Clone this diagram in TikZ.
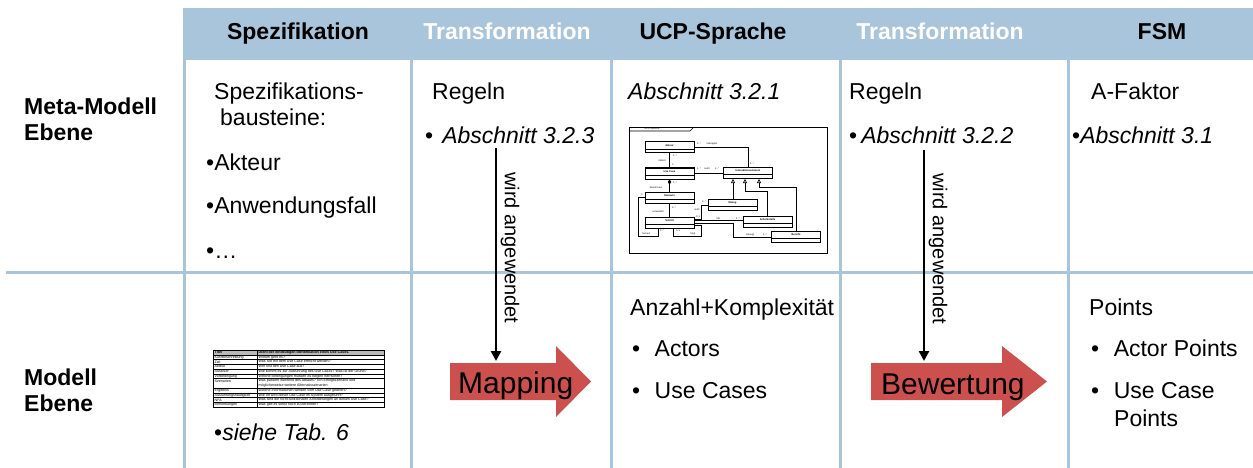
\documentclass[tikz,border=0pt]{standalone}
\usepackage{fontspec}
\setmainfont{Liberation Sans}
\usetikzlibrary{arrows.meta}
\definecolor{hdblue}{RGB}{168,197,219}
\definecolor{maprd}{RGB}{204,80,78}

\begin{document}
\begin{tikzpicture}[x=1pt,y=-1pt,
  hd/.style={font=\fontsize{23}{27}\selectfont\bfseries,anchor=base,inner sep=0pt},
  lbl/.style={font=\fontsize{23}{27}\selectfont\bfseries,anchor=base west,inner sep=0pt},
  txt/.style={font=\fontsize{23}{27}\selectfont,anchor=base west,inner sep=0pt},
  arrtxt/.style={font=\fontsize{30}{34}\selectfont,anchor=base west,inner sep=0pt},
  sidetxt/.style={font=\fontsize{20}{24}\selectfont,rotate=-90,inner sep=0pt},
  cellline/.style={hdblue,line width=3pt},
  warr/.style={line width=2.5pt,-{Triangle[length=10pt,width=10pt]}},
  umlcls/.style={draw,line width=1pt,minimum width=49pt,minimum height=11pt,inner sep=0pt},
  umltxt/.style={font=\fontsize{2.4}{2.7}\selectfont,inner sep=0.2pt},
  uml/.style={line width=0.6pt},
  tabtxt/.style={font=\fontsize{3.6}{4.3}\selectfont,anchor=west,align=left,inner sep=0pt}]
\useasboundingbox (0,0) rectangle (1253,468);
\fill[hdblue] (182.5,8.5) rectangle (1253,60);
\draw[cellline] (6,272) -- (1253,272);
\foreach \x in {184,411,611,840,1068} \draw[cellline] (\x,60) -- (\x,468);

\node[hd] (hspez) at (298,40) {Spezifikation};
\node[hd,white] (htra) at (507,40) {Transformation};
\node[hd] (hucp) at (713,40) {UCP-Sprache};
\node[hd,white] (htrb) at (940,40) {Transformation};
\node[hd] (hfsm) at (1162,40) {FSM};

\node[lbl] (meta1) at (24,115) {Meta-Modell};
\node[lbl] (meta2) at (24,141) {Ebene};
\node[lbl] (mod1) at (24,385) {Modell};
\node[lbl] (mod2) at (24,411) {Ebene};

\node[txt] (sp1) at (214,100) {Spezifikations-};
\node[txt] (sp2) at (220,126) {bausteine:};
\node[txt] (sp3) at (206,171) {•Akteur};
\node[txt] (sp4) at (206,213) {•Anwendungsfall};
\node[txt] (sp5) at (206,258) {•…};
\node[txt] (sp6) at (214,440) {•\textit{siehe Tab. 6}};

\node[txt] (tra1) at (432,100) {Regeln};
\node[txt] (tra2) at (425,143) {•\hspace{9pt}\textit{Abschnitt 3.2.3}};
\node[txt] (ucp1) at (628,100) {\textit{Abschnitt 3.2.1}};
\node[txt] (ucp2) at (630,315) {Anzahl+Komplexität};
\node[txt] (ucp3) at (632,356) {•\hspace{14.5pt}Actors};
\node[txt] (ucp4) at (632,398) {•\hspace{14.5pt}Use Cases};
\node[txt] (trb1) at (849,100) {Regeln};
\node[txt] (trb2) at (849,143) {•\hspace{4pt}\textit{Abschnitt 3.2.2}};
\node[txt] (fsm1) at (1091,100) {A-Faktor};
\node[txt] (fsm2) at (1072,143) {•\textit{Abschnitt 3.1}};
\node[txt] (fsm3) at (1089,315) {Points};
\node[txt] (fsm4) at (1091,356) {•\hspace{14.5pt}Actor Points};
\node[txt] (fsm5) at (1091,398) {•\hspace{14.5pt}Use Case};
\node[txt] (fsm6) at (1114,426) {Points};

\fill[maprd] (450,363) -- (556,363) -- (556,346) -- (591,381.5) -- (556,417) -- (556,400) -- (450,400) -- cycle;
\node[arrtxt] (map) at (458,393) {Mapping};
\fill[maprd] (871,363) -- (1002,363) -- (1002,346) -- (1047,381.5) -- (1002,417) -- (1002,400) -- (871,400) -- cycle;
\node[arrtxt] (bew) at (881,394) {Bewertung};

\coordinate (wa1s) at (496,148);
\coordinate (wa1e) at (496,361);
\draw[warr] (wa1s) -- (wa1e);
\node[sidetxt] (wa1) at (510,248) {wird angewendet};
\coordinate (wa2s) at (924,150);
\coordinate (wa2e) at (924,361);
\draw[warr] (wa2s) -- (wa2e);
\node[sidetxt] (wa2) at (938,249) {wird angewendet};

\draw[line width=0.6pt] (629,127) rectangle (827,253);
\draw[line width=0.6pt] (629,131) -- (690,131) -- (694,127);
\node[umltxt] (ucpt) at (652,129) {UCP-Sprache};
\foreach \n/\x/\y/\t in {akt/669.5/147.5/Akteur,uc/669.5/173.5/Use Case,ie/748/173/Interaktionselement,
  sz/669.5/197.5/Szenario,sr/669.5/222.5/Schritt,dl/732.5/205/Dialog,ss/767.5/222/Schnittstelle,ber/796/237/Bericht}{
  \node[umlcls] (\n) at (\x,\y) {};
  \node[umltxt,font=\fontsize{2.6}{2.9}\selectfont\bfseries] (\n-n) at ([yshift=2pt]\n.center) {\t};
  \draw[line width=0.4pt] ([yshift=-1.5pt]\n.west) -- ([yshift=-1.5pt]\n.east);
}
\coordinate (g1) at ([xshift=-15pt]ie.south);
\coordinate (g2) at ([xshift=-3pt]ie.south);
\coordinate (g3) at ([xshift=11pt]ie.south);
\draw[uml] (akt.east) -- (akt.east -| ie.north) -- (ie.north);
\draw[uml] (akt.south) -- (uc.north);
\draw[uml] (uc.east) -- (uc.east -| ie.west);
\draw[uml,{Diamond[length=5pt,width=3.5pt]}-] (uc.south) -- (sz.north);
\draw[uml,-{Triangle[open,length=4pt,width=4pt]}] (g1 |- dl.north) -- (g1);
\draw[uml,-{Triangle[open,length=4pt,width=4pt]}] (ss.north) -- ++(0,-25) -| (g2);
\draw[uml,-{Triangle[open,length=4pt,width=4pt]}] (ber.north) -- ++(0,-44) -| (g3);
\draw[uml] (sz.south) -- (sr.north);
\draw[uml] (sz.west) -- ++(-6,0) -- ++(0,38.5) -| ([xshift=-11.5pt]sr.south);
\draw[uml] ([yshift=-3pt]sr.east) -- ++(7,0) -- ++(0,10.5) -| ([xshift=4pt]sr.south);
\draw[uml] ([yshift=3.5pt]sr.east) -- ++(7,0) |- (dl.west);
\draw[uml,double,double distance=0.8pt] ([yshift=1.5pt]sr.east) -- ([yshift=1.5pt]sr.east -| ss.west);
\draw[uml] ([yshift=-0.5pt]sr.east) -- ++(39,0) |- (ber.west);
\foreach \i/\x/\y/\t in {1/712/144/interagiert,2/699/144/1..*,3/752/164/1..*,4/662/161/initiiert,5/675/156/1..*,
  6/673/165/1,7/707/169/nutzt,8/699/169/1..*,9/717/169/1..*,10/656/188/besteht aus,11/675/183/1..*,
  12/658/212/verwendet,13/674/208/0..*,14/646/234/hat auf,15/662/231/0..*,16/642/195/1,17/693/234/folgt,
  18/678/231/0..1,19/697/210/nutzt,20/704/202/0..*,21/698/217/0..1,22/718/219/ruft,23/738/219/1..*,
  24/750/235/erzeugt,25/765/235/1..*}
  \node[umltxt] (ml\i) at (\x,\y) {\t};

\fill[gray!55] (213,350) rectangle (384,354.75);
\foreach \y in {354.75,359.5,364.25,369,373.75,378.5,388,392.75,397.5,402.25} \draw[line width=0.3pt] (213,\y) -- (384,\y);
\draw[line width=0.3pt] (257,350) -- (257,407);
\draw[line width=0.8pt] (213,350) rectangle (384,407);
\foreach \i/\y/\a/\b in {1/352.4/{\textbf{Titel}}/{\textbf{Dient der eindeutigen Identifikation eines Use Cases.}},
  2/357.1/Kurzbeschreibung/{Worum geht es?},
  3/361.9/Ziel/{Was soll mit dem Use Case erreicht werden?},
  4/366.6/Akteur/{Wer löst den Use Case aus?},
  5/371.4/Auslöser/{Wie kommt es zur Ausführung des Use Cases? Was ist der Grund?},
  6/376.1/Vorbedingung/{Welche Bedingungen müssen zu Beginn herrschen?},
  7/380.9/Szenarien/{Was passiert während des Ablaufs? Ein Erfolgsszenario und\\möglicherweise weitere Alternativszenarien},
  8/390.4/Ergebnis/{Welche Informationen werden vom Use Case geliefert?},
  9/395.1/Ausführungshäufigkeit/{Wie oft wird dieser Use Case im System ausgeführt?},
  10/399.9/NFA/{Was sind die nicht-funktionalen Anforderungen an diesen Use Case?},
  11/404.6/Bemerkungen/{Was gibt es sonst noch zu berichten?}}{
  \node[tabtxt] (ta\i) at (214.5,\y) {\a};
  \node[tabtxt,anchor=north west] (tb\i) at (258.5,\y-1.9) {\b};
}
\end{tikzpicture}
\end{document}
